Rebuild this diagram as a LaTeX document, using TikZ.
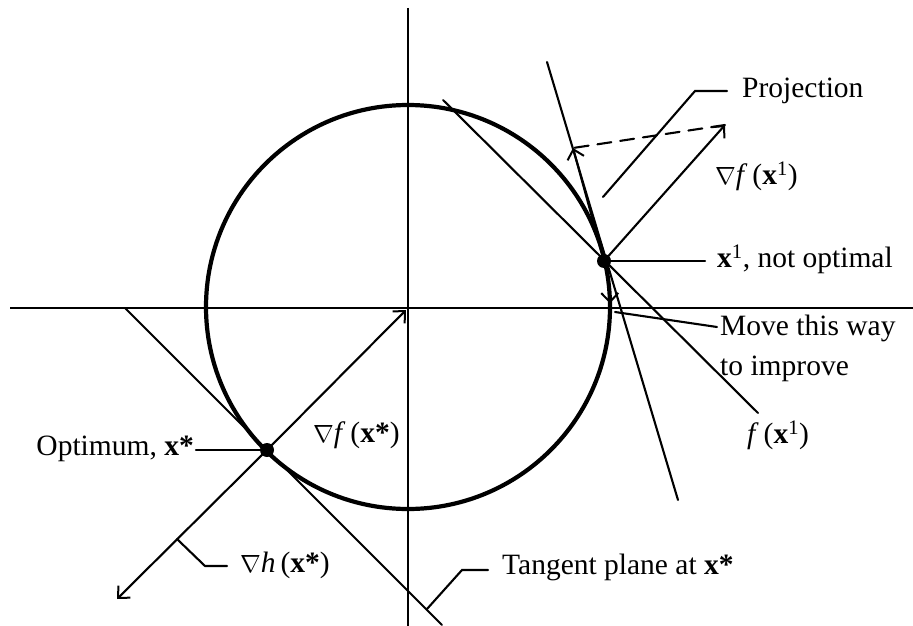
\documentclass[tikz,border=0pt]{standalone}
\usepackage{fontspec}
\setmainfont{Liberation Serif}
\usetikzlibrary{arrows.meta}
\begin{document}
\begin{tikzpicture}[x=1pt,y=-1pt,
  thin line/.style={line width=2.1pt, line cap=round},
  axis line/.style={line width=2.6pt},
  curve/.style={line width=4.2pt},
  tip/.style={-{Straight Barb[length=9pt,width=17pt,line width=2pt]}},
  lbl/.style={inner sep=0pt, font=\fontsize{29.5}{40}\selectfont},
  dot/.style={circle, fill=black, inner sep=0pt, minimum size=14pt}]
\useasboundingbox (0,0) rectangle (913,626);
% key points
\coordinate (O) at (408,307);
\coordinate (xs) at (267,450);
\coordinate (x1) at (604,261);
% axes
\coordinate (hl) at (10,308); \coordinate (hr) at (913,308);
\coordinate (vt) at (408,8); \coordinate (vb) at (408,626);
\draw[axis line] (hl) -- (hr);
\draw[axis line] (vt) -- (vb);
% constraint circle
\draw[curve] (O) circle (202pt);
% tangent plane at x*
\coordinate (ta) at (125,308); \coordinate (tb) at (442,625);
\draw[thin line] (ta) -- (tb);
% gradients at x*
\coordinate (gfs tip) at (406,310);
\coordinate (ghs tip) at (117,599);
\draw[thin line, tip] (xs) -- (gfs tip);
\draw[thin line, tip] (xs) -- (ghs tip);
% contour f(x1)
\coordinate (ca) at (443,100); \coordinate (cb) at (758,413);
\draw[thin line] (ca) -- (cb);
% tangent at x1
\coordinate (t1a) at (547,62); \coordinate (t1b) at (678,500);
\draw[thin line] (t1a) -- (t1b);
% gradient at x1, projection
\coordinate (gf1 tip) at (725,125);
\coordinate (proj tip) at (573,148);
\draw[thin line, tip] (x1) -- (gf1 tip);
\draw[thin line, tip] (x1) -- (proj tip);
\draw[thin line, dashed, dash pattern=on 14pt off 9pt] (gf1 tip) -- (proj tip);
% move this way arrow along the circle
\draw[thin line, tip] (O) ++(10:202pt) arc[start angle=10, end angle=1, radius=202pt] coordinate (mv);
% labels
\node[lbl, anchor=west] (proj) at (742,91) {Projection};
\node[lbl, anchor=west] (gf1) at (715,176) {$\nabla$\textit{f}\,(\textbf{x}\textsuperscript{1})};
\node[lbl, anchor=west] (x1l) at (717,259) {\textbf{x}\textsuperscript{1}, not optimal};
\node[lbl, anchor=north west, align=left] (move) at (720,315) {Move this way\\to improve};
\node[lbl, anchor=west] (f1) at (747,435) {\textit{f}\,(\textbf{x}\textsuperscript{1})};
\node[lbl, anchor=east] (opt) at (194,449) {Optimum, \textbf{x*}};
\node[lbl, anchor=west] (gfs) at (313,435) {$\nabla$\textit{f}\,(\textbf{x*})};
\node[lbl, anchor=west] (ghs) at (240,565) {$\nabla$\textit{h}\,(\textbf{x*})};
\node[lbl, anchor=west] (tp) at (502,567) {Tangent plane at \textbf{x*}};
% leaders
\coordinate (pl1) at (603,197); \coordinate (pl2) at (695,91); \coordinate (pl3) at (727,91);
\draw[thin line] (pl1) -- (pl2) -- (pl3);
\coordinate (xl) at (705,261);
\draw[thin line] (x1) -- (xl);
\coordinate (ml1) at (615,312); \coordinate (ml2) at (717,327);
\draw[thin line] (ml1) -- (ml2);
\coordinate (ol) at (196,450);
\draw[thin line] (ol) -- (xs);
\coordinate (hl1) at (177,539); \coordinate (hl2) at (205,566); \coordinate (hl3) at (227,566);
\draw[thin line] (hl1) -- (hl2) -- (hl3);
\coordinate (tl1) at (427,609); \coordinate (tl2) at (462,570); \coordinate (tl3) at (488,570);
\draw[thin line] (tl1) -- (tl2) -- (tl3);
% points
\node[dot] (xsdot) at (xs) {};
\node[dot] (x1dot) at (x1) {};
\end{tikzpicture}
\end{document}
